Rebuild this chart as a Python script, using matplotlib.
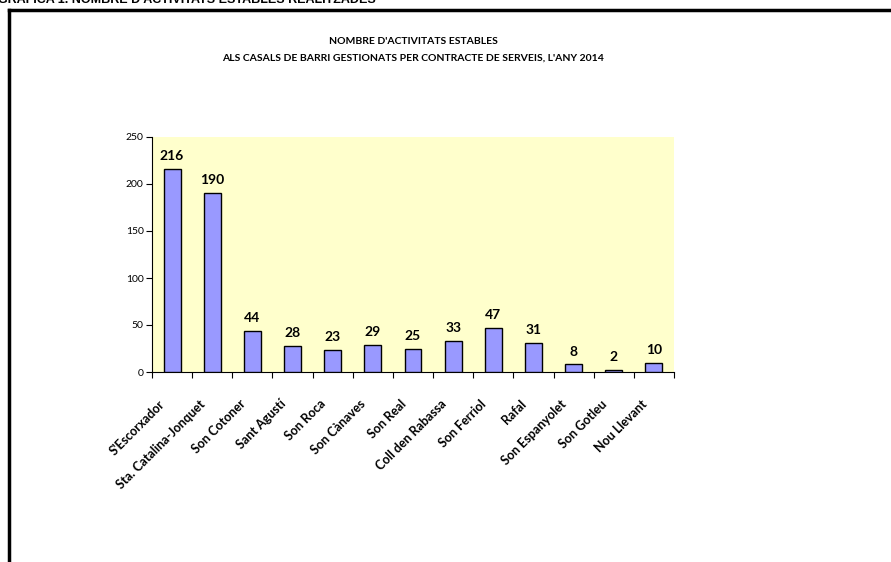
import matplotlib
matplotlib.use("Agg")
import matplotlib.pyplot as plt
from matplotlib.lines import Line2D
from matplotlib.transforms import ScaledTranslation

categories = ["S'Escorxador", "Sta. Catalina-Jonquet", "Son Cotoner", "Sant Agustí",
              "Son Roca", "Son Cànaves", "Son Real", "Coll den Rabassa", "Son Ferriol",
              "Rafal", "Son Espanyolet", "Son Gotleu", "Nou Llevant"]
values = [216, 190, 44, 28, 23, 29, 25, 33, 47, 31, 8, 2, 10]
yticks = [0, 50, 100, 150, 200, 250]

plt.rcParams['font.family'] = ['Lato', 'DejaVu Sans']

fig = plt.figure(figsize=(8.91, 5.62), dpi=100)
ax = fig.add_axes([152/891, 1-372/562, 522/891, 235/562])
ax.set_facecolor('#FFFFCC')

x = list(range(len(categories)))
ax.bar(x, values, width=0.42, color='#9999FF', edgecolor='black', linewidth=1.0, zorder=3)
for xi, v in zip(x, values):
    ax.annotate(str(v), (xi, v), xytext=(0, 5), textcoords='offset points',
                ha='center', va='bottom', fontsize=10, fontweight='bold')

ax.set_xlim(-0.5, len(categories) - 0.5)
ax.set_ylim(0, 250)
ax.set_yticks(yticks)
ax.set_yticklabels([str(t) for t in yticks], fontsize=7.5)
ax.set_xticks(x)
ax.set_xticklabels(categories, rotation=45, ha='right', va='center', rotation_mode='anchor',
                   fontsize=9, fontweight='bold')
ax.tick_params(axis='x', length=0, pad=21.5)
shift = ScaledTranslation(-9/100, 0, fig.dpi_scale_trans)
for lab in ax.get_xticklabels():
    lab.set_transform(lab.get_transform() + shift)
ax.set_xticks([i - 0.5 for i in range(len(categories) + 1)], minor=True)
ax.tick_params(axis='x', which='minor', length=4, width=0.8, direction='out')
ax.tick_params(axis='y', length=4, width=0.8, pad=2)
for s in ['top', 'right']:
    ax.spines[s].set_visible(False)
ax.spines['left'].set_linewidth(0.8)
ax.spines['bottom'].set_linewidth(0.8)

fig.text(413/891, 1-41/562, "NOMBRE D'ACTIVITATS ESTABLES", ha='center', va='center',
         fontsize=7.5, fontweight='bold')
fig.text(413/891, 1-58/562, "ALS CASALS DE BARRI GESTIONATS PER CONTRACTE DE SERVEIS, L'ANY 2014",
         ha='center', va='center', fontsize=7.5, fontweight='bold')

# cut-off header at the top
fig.text(-2/891, 1-0/562, "GRÀFICA 1. NOMBRE D'ACTIVITATS ESTABLES REALITZADES",
         ha='left', va='center', fontsize=9.0, fontweight='bold', family='Liberation Sans')

# frame
fig.add_artist(Line2D([9/891, 9/891], [0, 1-10/562], color='black', lw=2.5, transform=fig.transFigure))
fig.add_artist(Line2D([9/891, 1], [1-10/562, 1-10/562], color='black', lw=2.5, transform=fig.transFigure))

fig.savefig("out.png", dpi=100)
